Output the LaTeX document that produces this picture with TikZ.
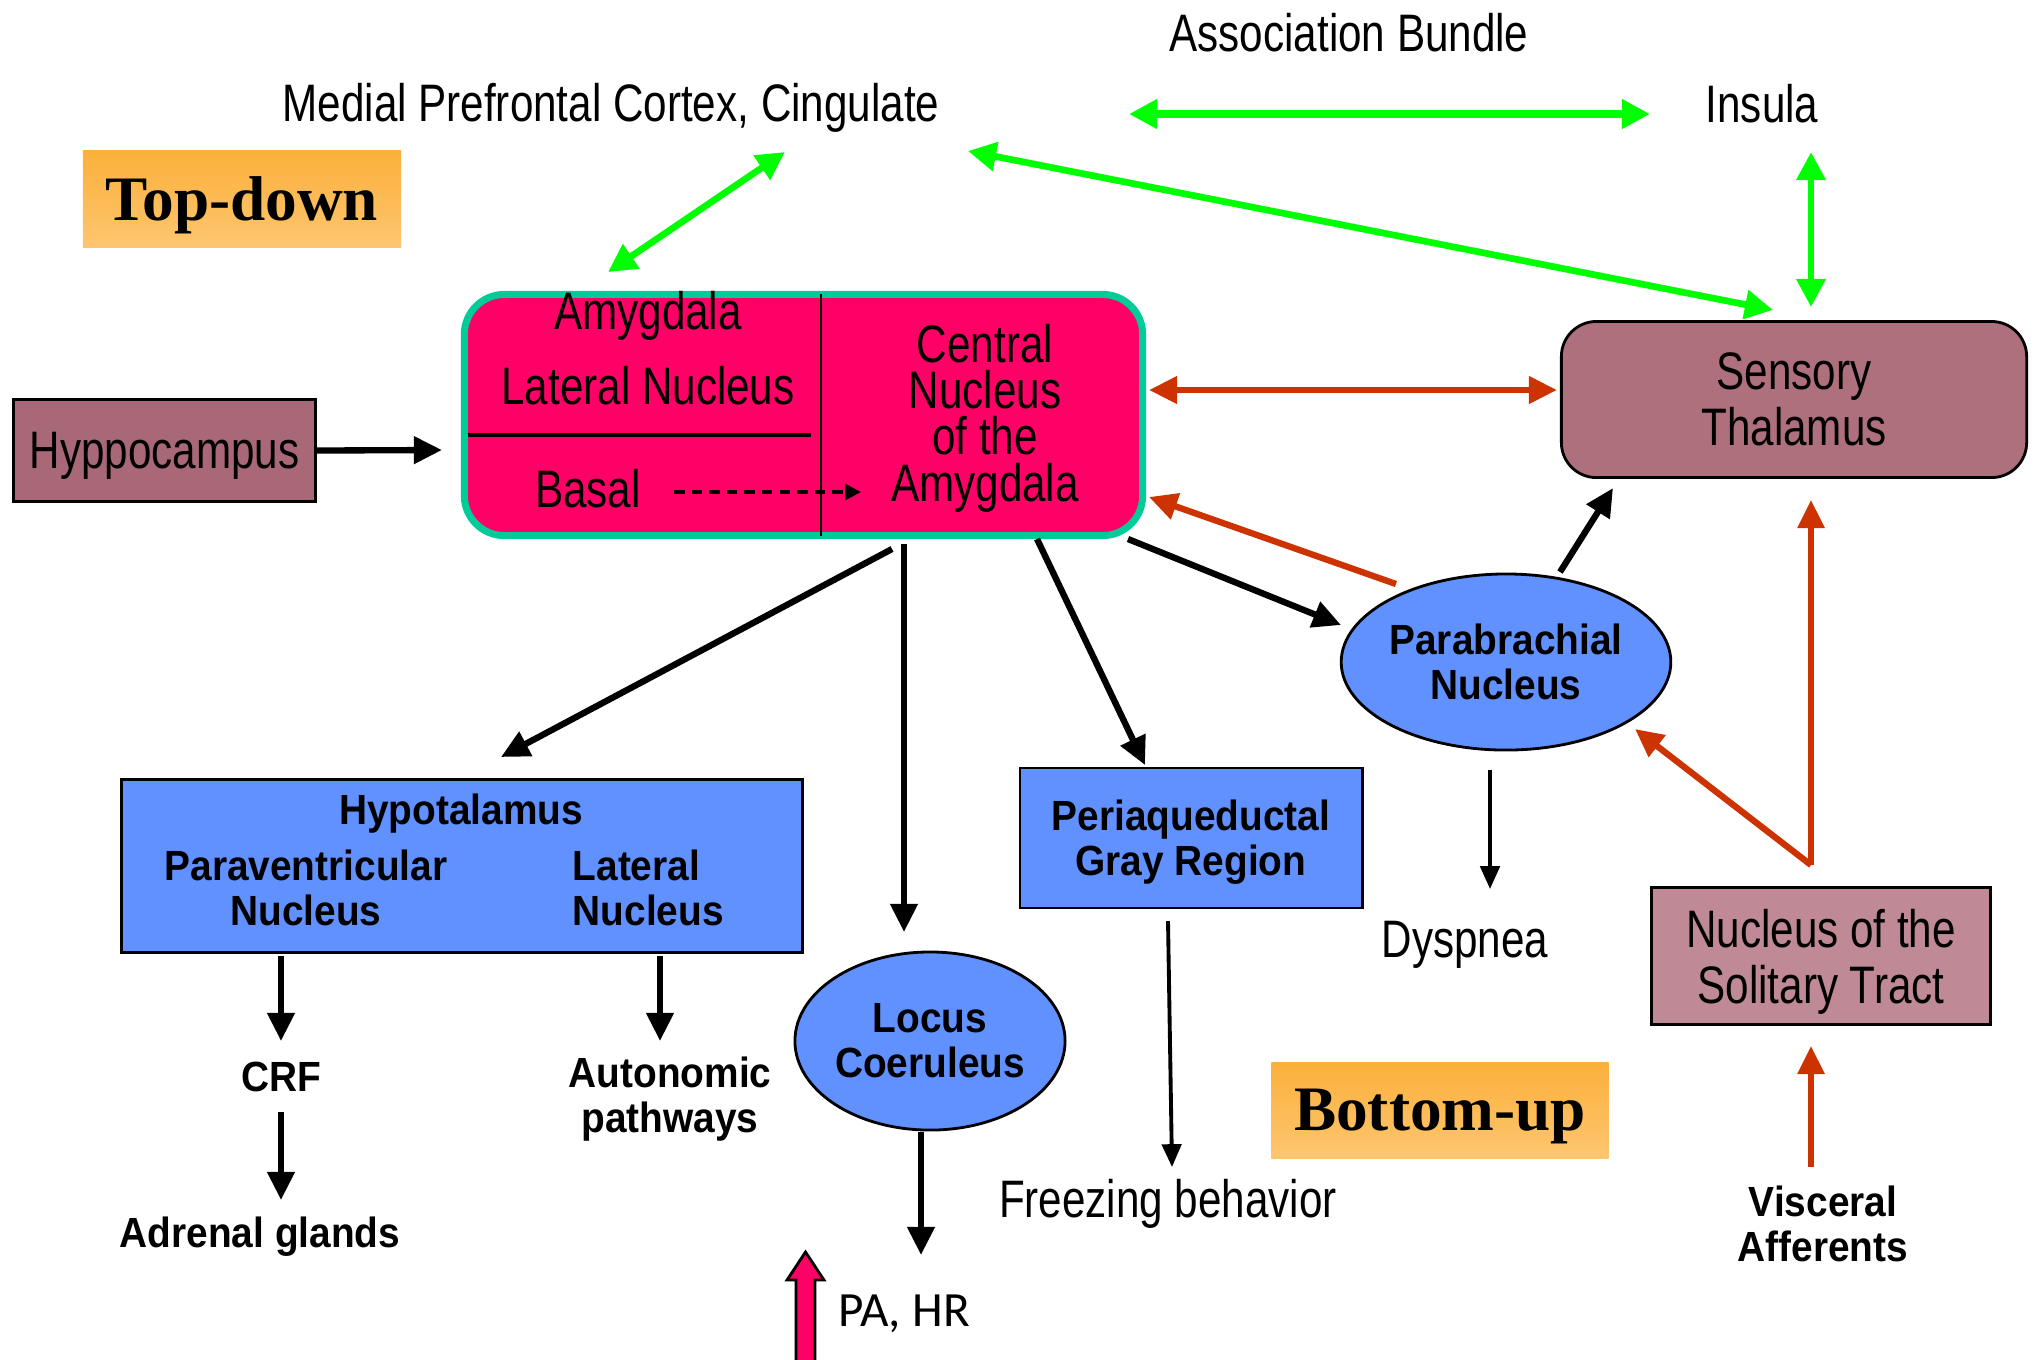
\documentclass[tikz,border=0pt]{standalone}
\usepackage{fontspec}
\setmainfont{Liberation Sans}
\newfontfamily\narrowfont{Liberation Sans}[FakeStretch=0.8]
\newfontfamily\boldfont{Liberation Sans}[FakeStretch=0.92]
\newfontfamily\serifbold{Liberation Serif}
\newfontfamily\calfont{Carlito}
\usetikzlibrary{arrows.meta,calc,shapes.geometric}

\definecolor{bundlegreen}{HTML}{00FF00}
\definecolor{rust}{HTML}{CC3300}
\definecolor{amygpink}{HTML}{FF0066}
\definecolor{amygteal}{HTML}{00CC99}
\definecolor{hippomauve}{HTML}{A86878}
\definecolor{thalmauve}{HTML}{AE707C}
\definecolor{ntspink}{HTML}{BF8A95}
\definecolor{nucblue}{HTML}{6190FF}
\definecolor{tagtop}{HTML}{FBB03B}
\definecolor{tagbot}{HTML}{FDC66F}

\begin{document}
\begin{tikzpicture}[x=0.01cm, y=-0.01cm, >={Triangle[length=8pt,width=7.5pt]},
  plain/.style={font=\narrowfont\fontsize{15}{16}\selectfont, align=center, inner sep=0pt},
  boldlab/.style={font=\boldfont\bfseries\fontsize{12}{12.8}\selectfont, align=center, inner sep=0pt},
  brainbox/.style={plain, draw, line width=0.8pt},
  nucleus/.style={boldlab, draw, line width=0.8pt, fill=nucblue},
  tagbox/.style={top color=tagtop, bottom color=tagbot, inner sep=0pt, text depth=0pt,
    font=\serifbold\bfseries\fontsize{18}{20}\selectfont},
  bundle/.style={draw=bundlegreen, line width=1.9pt, >={Triangle[length=8pt,width=8pt]}, <->},
  rustarr/.style={draw=rust, line width=1.8pt, >={Triangle[length=8pt,width=7.5pt]}, ->},
  blkarr/.style={line width=1.8pt, ->},
  thinarr/.style={line width=1.1pt, >={Triangle[length=6.5pt,width=5.5pt]}, ->}]
  \useasboundingbox (0,0) rectangle (2040,1359);

  % Cortex labels
  \node[plain] (assoc) at (1349,33) {Association Bundle};
  \node[plain] (mpfc) at (611,108) {Medial Prefrontal Cortex, Cingulate};
  \node[plain] (insula) at (1762,104) {Insula};

  % Tags
  \node[tagbox, minimum width=3.18cm, minimum height=0.96cm] (topdown) at (242,199) {Top-down};
  \node[tagbox, minimum width=3.37cm, minimum height=0.96cm] (bottomup) at (1440,1110) {Bottom-up};

  % Amygdala
  \node[draw=amygteal, fill=amygpink, line width=2pt, rounded corners=0.4cm,
    minimum width=6.78cm, minimum height=2.41cm, inner sep=0pt] (amyg) at (803.5,415) {};
  \draw[line width=0.8pt] ($(amyg)+(17.5,-121)$) -- ($(amyg)+(17.5,121)$);
  \draw[line width=0.9pt] ($(amyg)+(-336,20)$) -- ($(amyg)+(7.5,20)$);
  \node[plain] (amygtitle) at (648,316) {Amygdala};
  \node[plain] (latnuc) at (648,386) {Lateral Nucleus};
  \node[plain] (basal) at (588,489) {Basal};
  \node[plain, font=\narrowfont\fontsize{15}{13.2}\selectfont] (central) at (985,418)
    {Central\\Nucleus\\of the\\Amygdala};
  \draw[line width=1pt, dash pattern=on 3pt off 2pt, -{Triangle[length=4.5pt,width=4.5pt]}]
    ($(basal)+(86,3)$) -- ($(amyg)+(57.5,77)$);

  % Other regions
  \node[brainbox, fill=hippomauve, text depth=0pt, minimum width=3.02cm, minimum height=1.02cm] (hippo) at (164.5,450.5) {Hyppocampus};
  \node[brainbox, fill=thalmauve, rounded corners=0.35cm, minimum width=4.65cm, minimum height=1.56cm] (thal) at (1794,399.5) {Sensory\\Thalamus};
  \node[nucleus, ellipse, minimum width=3.22cm, minimum height=1.76cm] (pbn) at (1506,662) {Parabrachial\\Nucleus};
  \node[plain] (dysp) at (1465,945) {Dyspnea};
  \node[brainbox, fill=ntspink, text depth=0pt, minimum width=3.39cm, minimum height=1.37cm] (nts) at (1821,956) {Nucleus of the\\Solitary Tract};
  \node[boldlab] (visc) at (1823,1224) {Visceral\\Afferents};
  \node[nucleus, minimum width=6.81cm, minimum height=1.73cm] (hypo) at (462,866) {};
  \node[boldlab] (hyptitle) at (461,814) {Hypotalamus};
  \node[boldlab] (pvn) at (306,888) {Paraventricular\\Nucleus};
  \node[boldlab, align=left, anchor=west] (latn) at (572,888) {Lateral\\Nucleus};
  \node[boldlab] (crf) at (281,1077) {CRF};
  \node[boldlab] (adrenal) at (260,1237) {Adrenal glands};
  \node[boldlab] (auton) at (670,1099) {Autonomic\\pathways};
  \node[nucleus, ellipse, minimum width=2.70cm, minimum height=1.78cm] (lc) at (930,1041) {Locus\\Coeruleus};
  \node[nucleus, text depth=0pt, minimum width=3.42cm, minimum height=1.40cm] (pag) at (1191,838) {Periaqueductal\\Gray Region};
  \node[plain] (freeze) at (1168,1204) {Freezing behavior};
  \node[font=\calfont\fontsize{14}{16}\selectfont, inner sep=0pt] (pahr) at (904,1314) {PA, HR};

  % Pressure / heart rate up
  \filldraw[fill=amygpink, line width=0.8pt] (796,1365) -- (796,1280) -- (787,1280) -- (805.5,1252)
    -- (824,1280) -- (815,1280) -- (815,1365);

  % Association bundle
  \draw[bundle, line width=2.3pt] ($(mpfc)+(518,6)$) -- ($(insula)+(-112,10)$);
  \draw[bundle] ($(mpfc)+(174,44)$) -- ($(amyg)+(-195.5,-143)$);
  \draw[bundle] ($(mpfc)+(357,43)$) -- ($(thal)+(-21,-89.5)$);
  \draw[bundle] ($(insula)+(49,48)$) -- ($(thal)+(17,-92.5)$);

  % Sensory input
  \draw[rustarr, <->] ($(amyg)+(345.5,-25)$) -- ($(thal)+(-237,-9.5)$);
  \draw[rustarr] ($(pbn)+(-110,-78)$) -- ($(amyg)+(345.5,82)$);
  \coordinate (fork) at ($(nts)+(-10,-91)$);
  \draw[rustarr, line width=1.5pt] (fork) -- ($(thal)+(17,100.5)$);
  \draw[rustarr] (fork) -- ($(pbn)+(129,67)$);
  \draw[rustarr, line width=1.5pt] ($(visc)+(-12,-57)$) -- ($(nts)+(-10,90)$);

  % Outputs
  \draw[blkarr] (hippo.east) -- ($(amyg)+(-361.5,35)$);
  \draw[blkarr] ($(amyg)+(324.5,124)$) -- ($(pbn)+(-165,-37)$);
  \draw[blkarr] ($(pbn)+(54,-90)$) -- ($(thal)+(-181,88.5)$);
  \draw[thinarr] ($(pbn)+(-16,108)$) -- ($(dysp)+(25,-56)$);
  \draw[blkarr] ($(amyg)+(88.5,134)$) -- ($(hypo)+(39,-109)$);
  \draw[blkarr] ($(amyg)+(100.5,129)$) -- ($(lc)+(-26,-109)$);
  \draw[blkarr] ($(amyg)+(233.5,124)$) -- ($(pag)+(-46,-73)$);
  \draw[blkarr] ($(hypo)+(-181,90)$) -- ($(crf)+(0,-36)$);
  \draw[blkarr] ($(hypo)+(198,90)$) -- ($(auton)+(-10,-58)$);
  \draw[blkarr] ($(crf)+(0,35)$) -- ($(adrenal)+(21,-37)$);
  \draw[blkarr] ($(lc)+(-9,91)$) -- ($(pahr)+(17,-59)$);
  \draw[thinarr] ($(pag)+(-23,83)$) -- ($(freeze)+(4,-37)$);
\end{tikzpicture}
\end{document}
